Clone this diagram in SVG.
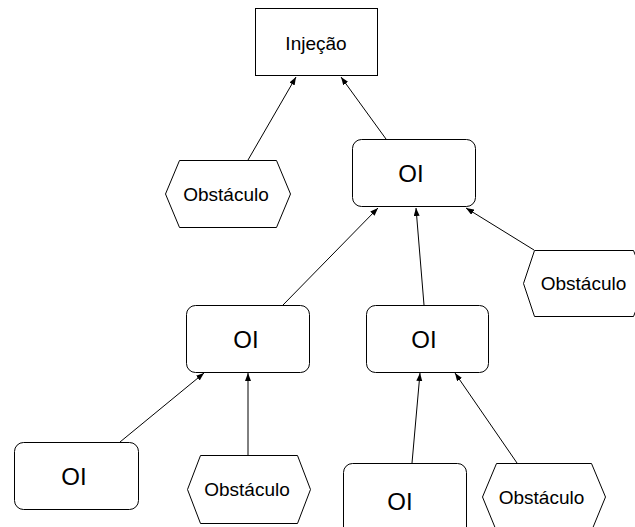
<svg xmlns="http://www.w3.org/2000/svg" width="635" height="527" viewBox="0 0 635 527">
  <defs>
    <marker id="arrow" markerUnits="userSpaceOnUse" markerWidth="9" markerHeight="7" refX="8" refY="3" orient="auto">
      <path d="M0,0 L8,3 L0,6 z" fill="#000"/>
    </marker>
    <style>
      .box { fill: #fff; stroke: #000; stroke-width: 1; }
      .edge { stroke: #000; stroke-width: 1; fill: none; marker-end: url(#arrow); }
      .lbl { font-family: "Liberation Sans", Arial, sans-serif; font-size: 19px; fill: #000; text-anchor: middle; }
      .oi { font-family: "Liberation Sans", Arial, sans-serif; font-size: 24px; fill: #000; text-anchor: middle; }
    </style>
  </defs>
  <rect width="635" height="527" fill="#fff"/>

  <!-- connectors: child to parent -->
  <g id="connectors">
    <line class="edge" x1="248" y1="160" x2="296" y2="77"/>
    <line class="edge" x1="386" y1="139" x2="341" y2="77"/>
    <line class="edge" x1="283" y1="305" x2="378" y2="208"/>
    <line class="edge" x1="424" y1="305" x2="416" y2="208"/>
    <line class="edge" x1="534" y1="250" x2="466" y2="208"/>
    <line class="edge" x1="120" y1="442" x2="204" y2="373"/>
    <line class="edge" x1="248" y1="455" x2="248" y2="373"/>
    <line class="edge" x1="412" y1="463" x2="420" y2="373"/>
    <line class="edge" x1="517" y1="463" x2="455" y2="373"/>
  </g>

  <g id="injecao">
    <rect class="box" x="255.5" y="8.5" width="122" height="67"/>
    <text class="lbl" x="316" y="50">Injeção</text>
  </g>

  <g id="obstaculo-1">
    <polygon class="box" points="179.5,160.5 276.5,160.5 290.5,194 276.5,227.5 179.5,227.5 165.5,194"/>
    <text class="lbl" x="226" y="201">Obstáculo</text>
  </g>

  <g id="oi-1">
    <rect class="box" x="352.5" y="139.5" width="123" height="67" rx="9" ry="9"/>
    <text class="oi" x="411" y="182">OI</text>
  </g>

  <g id="obstaculo-2">
    <polygon class="box" points="534.5,250.5 633.5,250.5 646.5,283.5 633.5,316.5 534.5,316.5 523.5,283.5"/>
    <text class="lbl" x="583.5" y="290">Obstáculo</text>
  </g>

  <g id="oi-2">
    <rect class="box" x="186.5" y="305.5" width="123" height="67" rx="9" ry="9"/>
    <text class="oi" x="246" y="348">OI</text>
  </g>

  <g id="oi-3">
    <rect class="box" x="366.5" y="305.5" width="122" height="67" rx="9" ry="9"/>
    <text class="oi" x="424" y="348">OI</text>
  </g>

  <g id="oi-4">
    <rect class="box" x="14.5" y="442.5" width="124" height="67" rx="9" ry="9"/>
    <text class="oi" x="74" y="485">OI</text>
  </g>

  <g id="obstaculo-3">
    <polygon class="box" points="200.5,455.5 297.5,455.5 310.5,489.5 297.5,523.5 200.5,523.5 187.5,489.5"/>
    <text class="lbl" x="247" y="496">Obstáculo</text>
  </g>

  <g id="oi-5">
    <rect class="box" x="343.5" y="463.5" width="123" height="75" rx="9" ry="9"/>
    <text class="oi" x="400" y="510">OI</text>
  </g>

  <g id="obstaculo-4">
    <polygon class="box" points="496.5,463.5 591.5,463.5 605.5,497 591.5,531 496.5,531 482.5,497"/>
    <text class="lbl" x="541.5" y="504">Obstáculo</text>
  </g>
</svg>
